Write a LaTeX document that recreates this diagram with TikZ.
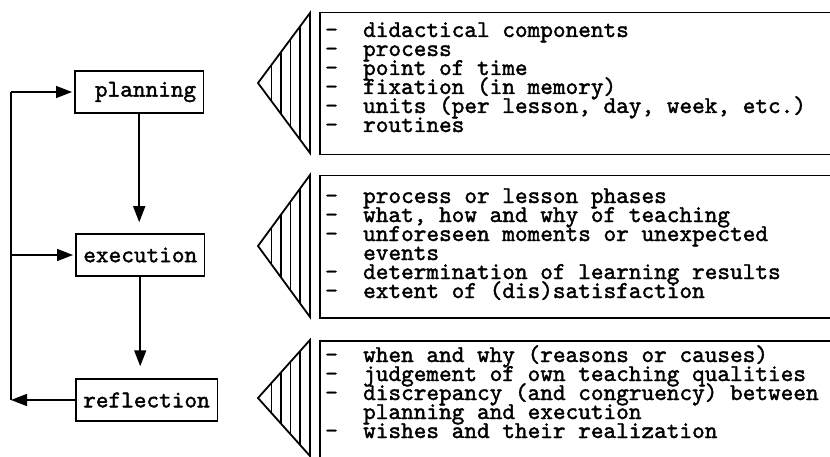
\documentclass[tikz,border=0pt]{standalone}
\usepackage{fontspec}
\usetikzlibrary{arrows.meta}

% a darkened typewriter face, set solid with a fixed line pitch
\newfontfamily\typedface{lmmono10-regular.otf}[FakeBold=1.6]
\newcommand\typedsetup{\typedface\fontsize{24.1pt}{19pt}\selectfont
  \lineskiplimit=-100pt\relax\lineskip=0pt\relax\frenchspacing}

% one column of the typed lists is 0.525em wide; items start three columns in
\newcommand\itemdash{\makebox[37.98pt][l]{-}}
\newcommand\itemcont{\hspace*{37.98pt}}

% hatched wedge pointing at a list box: #1 top, #2 apex, #3 bottom (y values)
\newcommand\hatchwedge[3]{%
  \begin{scope}
    \clip (310,#1) -- (258,#2) -- (310,#3) -- cycle;
    \foreach \hx in {271.5,281,290.5,300}
      \draw[hatch] (\hx,#1) -- (\hx,#3);
  \end{scope}
  \draw[wedge] (310,#1) -- (258,#2) -- (310,#3) -- cycle;
}

\begin{document}
\begin{tikzpicture}[x=1pt, y=-1pt,
  typed/.style={font=\typedsetup},
  stage/.style={typed, draw, line width=1.5pt, minimum height=42pt,
    inner xsep=7.5pt, anchor=west},
  flow/.style={line width=1.5pt, -{Triangle[length=16pt,width=12pt]}},
  listbox/.style={draw, line width=1.5pt, anchor=north west,
    minimum width=540pt, inner sep=0pt},
  listtext/.style={typed, anchor=base west, align=left, inner sep=0pt},
  hatch/.style={line width=1.5pt},
  wedge/.style={line width=1.8pt, line join=miter}]

\useasboundingbox (0,0) rectangle (830,457);
\clip (0,0) rectangle (830,457);

% the three stages
\node[stage, text width=113.94pt, align=right] (plan) at (74,92) {planning};
\node[stage, text width=113.94pt, align=right] (exec) at (75,255) {execution};
\node[stage] (refl) at (75,400) {reflection};

% flow between the stages
\draw[flow, shorten >=11pt] (plan.south) -- (plan.south |- exec.north);
\draw[flow, shorten >=12pt] (exec.south) -- (exec.south |- refl.north);

% feedback loop on the left
\coordinate (ltop) at (11,92);
\coordinate (lmid) at (11,255);
\coordinate (lbot) at (11,400);
\draw[line width=1.5pt] (lbot) -- (ltop);
\draw[flow, shorten >=2pt] (ltop) -- (plan.west);
\draw[flow, shorten >=2pt] (lmid) -- (exec.west);
\draw[flow] (refl.west) -- (lbot);

% list boxes (open to the right)
\node[listbox, minimum height=142pt] (box1) at (319,12) {};
\node[listbox, minimum height=142pt] (box2) at (319,175) {};
\node[listbox, minimum height=140pt] (box3) at (319,340) {};

\hatchwedge{13}{83}{153}
\hatchwedge{175}{246}{317}
\hatchwedge{340}{398}{456}

% the base anchor of a multi-line node sits on its last line
\node[listtext] (list1) at (325,132) {%
  \itemdash didactical components\\
  \itemdash process\\
  \itemdash point of time\\
  \itemdash fixation (in memory)\\
  \itemdash units (per lesson, day, week, etc.)\\
  \itemdash routines};

\node[listtext] (list2) at (325,298) {%
  \itemdash process or lesson phases\\
  \itemdash what, how and why of teaching\\
  \itemdash unforeseen moments or unexpected\\
  \itemcont events\\
  \itemdash determination of learning results\\
  \itemdash extent of (dis)satisfaction};

\node[listtext] (list3) at (325,438) {%
  \itemdash when and why (reasons or causes)\\
  \itemdash judgement of own teaching qualities\\
  \itemdash discrepancy (and congruency) between\\
  \itemcont planning and execution\\
  \itemdash wishes and their realization};

\end{tikzpicture}
\end{document}
